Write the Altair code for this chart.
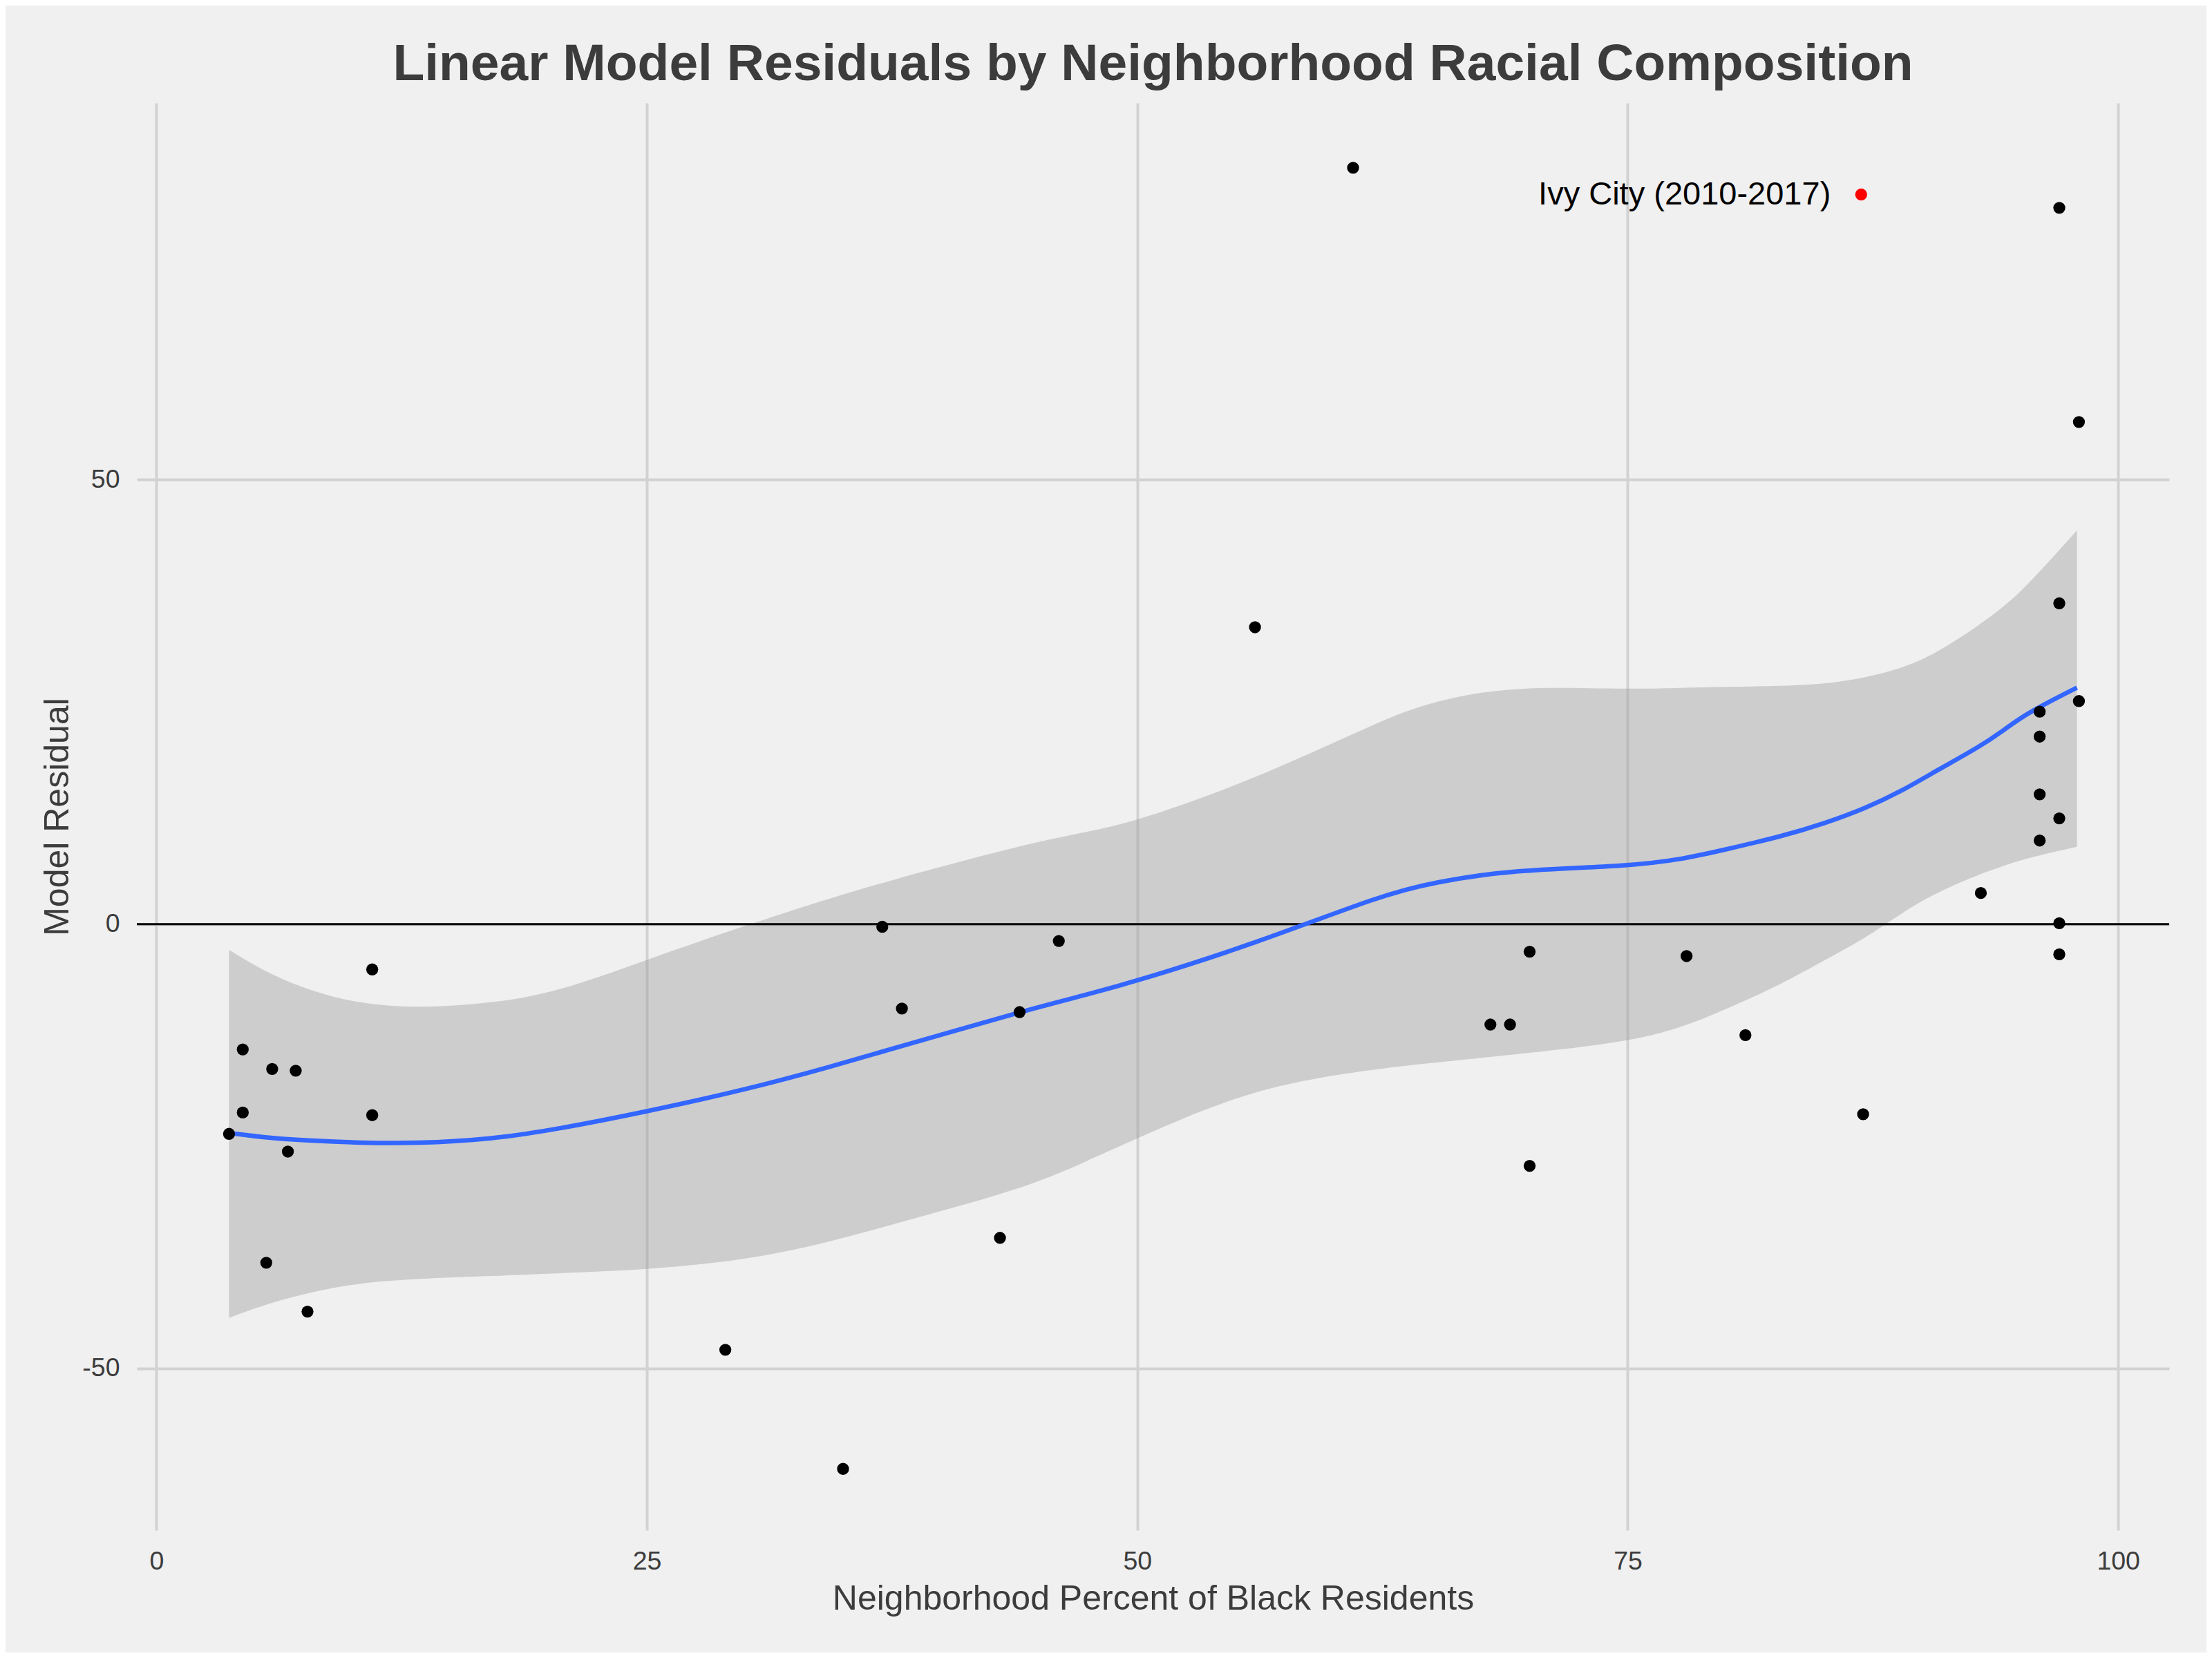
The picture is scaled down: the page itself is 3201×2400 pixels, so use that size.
import altair as alt
import pandas as pd

# ---- data ----
pct_black = [3.7, 4.4, 4.4, 5.9, 7.1, 6.7, 5.6, 7.7, 11.0, 11.0, 29.0, 35.0, 37.0, 38.0,
             43.0, 44.0, 46.0, 56.0, 61.0, 68.0, 69.0, 70.0, 70.0, 78.0, 81.0, 87.0,
             93.0, 96.0, 96.0, 96.0, 96.0, 97.0, 97.0, 97.0, 97.0, 97.0, 98.0, 98.0]
residual = [-23.6, -14.1, -21.2, -16.3, -16.5, -25.6, -38.1, -43.6, -5.1, -21.5, -47.9, -61.3,
            -0.3, -9.5, -35.3, -9.9, -1.9, 33.4, 85.1, -11.3, -11.3, -3.1, -27.2, -3.6,
            -12.5, -21.4, 3.5, 23.9, 21.1, 14.6, 9.4, 80.6, 36.1, 11.9, 0.1, -3.4, 56.5, 25.1]

highlight_name = ["Ivy City (2010-2017)"]
highlight_x = [86.9]
highlight_y = [82.1]

smooth_x = [3.7, 5.8, 8.1, 10.3, 13.2, 17.1, 20.4, 25.0, 30.1, 34.3, 38.5, 44.3, 47.5, 50.0,
            56.0, 62.5, 65.1, 69.1, 75.0, 77.8, 80.0, 82.9, 85.0, 87.1, 89.0, 90.6, 92.9,
            94.1, 95.3, 97.9]
smooth_fit = [-23.5, -24.1, -24.4, -24.6, -24.7, -24.2, -23.1, -21.1, -18.6, -16.1, -13.4,
              -9.7, -7.9, -6.4, -2.2, 3.3, 4.7, 6.1, 6.5, 7.3, 8.4, 9.9, 11.3, 13.0, 15.0,
              17.1, 19.9, 21.7, 23.7, 26.6]
smooth_lo = [-44.3, -42.6, -41.3, -40.4, -39.9, -39.6, -39.3, -38.9, -37.8, -35.8, -33.2,
             -29.7, -26.6, -24.1, -18.3, -16.2, -15.6, -14.7, -13.3, -11.6, -9.6, -6.7,
             -4.1, -1.6, 1.3, 3.4, 5.6, 6.5, 7.4, 8.7]
smooth_hi = [-2.9, -5.7, -7.7, -8.9, -9.5, -8.9, -7.7, -4.0, -0.1, 2.9, 5.6, 9.0, 10.4,
             11.6, 16.3, 23.0, 25.1, 26.8, 26.4, 26.6, 26.7, 26.8, 27.0, 27.7, 28.8, 30.3,
             33.6, 35.6, 37.9, 44.3]

x_ticks = [0, 25, 50, 75, 100]
y_ticks = [-50, 0, 50]

# ---- tables ----
pts = pd.DataFrame({"x": pct_black, "y": residual})
hl = pd.DataFrame({"x": highlight_x, "y": highlight_y, "name": highlight_name})
sm = pd.DataFrame({"x": smooth_x, "fit": smooth_fit, "lo": smooth_lo, "hi": smooth_hi})
zero = pd.DataFrame({"y": [0]})

FONT = "Liberation Sans"
TXT = "#3C3C3C"

xscale = alt.Scale(domain=[-1.0, 102.6], nice=False, zero=False)
yscale = alt.Scale(domain=[-68.2, 92.4], nice=False, zero=False)

xax = alt.Axis(values=x_ticks, title="Neighborhood Percent of Black Residents",
               labelExpr="'' + datum.value", labelPadding=26, titlePadding=11)
yax = alt.Axis(values=y_ticks, title="Model Residual",
               labelExpr="'' + datum.value", labelPadding=25, titlePadding=10)

X = alt.X("x:Q", scale=xscale, axis=xax)

ribbon = alt.Chart(sm).mark_area(color="#999999", opacity=0.4, interpolate="basis").encode(
    x=X,
    y=alt.Y("lo:Q", scale=yscale, axis=yax),
    y2="hi:Q",
)

hline = alt.Chart(zero).mark_rule(color="black", strokeWidth=3).encode(
    y=alt.Y("y:Q", scale=yscale)
)

fit = alt.Chart(sm).mark_line(color="#3366FF", strokeWidth=6.5, interpolate="basis").encode(
    x=alt.X("x:Q", scale=xscale),
    y=alt.Y("fit:Q", scale=yscale),
)

points = alt.Chart(pts).mark_circle(color="black", opacity=1, size=300).encode(
    x=alt.X("x:Q", scale=xscale),
    y=alt.Y("y:Q", scale=yscale),
)

red = alt.Chart(hl).mark_circle(color="#FF0000", opacity=1, size=300).encode(
    x=alt.X("x:Q", scale=xscale),
    y=alt.Y("y:Q", scale=yscale),
)

label = alt.Chart(hl).mark_text(align="right", baseline="middle", dx=-44, fontSize=47,
                                font=FONT, color="black").encode(
    x=alt.X("x:Q", scale=xscale),
    y=alt.Y("y:Q", scale=yscale),
    text="name:N",
)

chart = alt.layer(ribbon, hline, fit, points, red, label).properties(
    width=2941,
    height=2066,
    padding={"left": 190, "top": 141, "right": 54, "bottom": 177},
    autosize=alt.AutoSizeParams(type="none"),
    title=alt.TitleParams(
        "Linear Model Residuals by Neighborhood Racial Composition",
        fontSize=75, font=FONT, fontWeight="bold", color=TXT,
        anchor="middle", baseline="alphabetic", offset=35, dy=77,
    ),
).configure(
    background="#F0F0F0",
).configure_view(
    stroke="transparent",
).configure_axis(
    grid=True, gridColor="#D2D2D2", gridWidth=4,
    domain=False, ticks=False,
    labelFont=FONT, labelFontSize=37.5, labelColor=TXT,
    titleFont=FONT, titleFontSize=50, titleColor=TXT, titleFontWeight="normal",
)

chart.save("out.html", embed_options={"renderer": "svg", "actions": False})
